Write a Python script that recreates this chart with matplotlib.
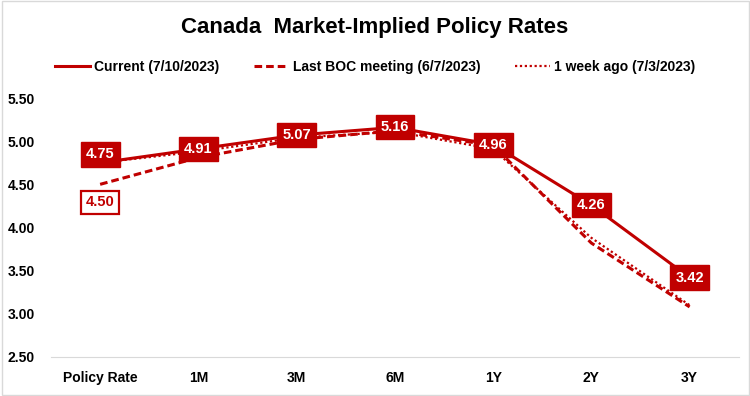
import matplotlib
matplotlib.use('Agg')
import matplotlib.pyplot as plt
from matplotlib.patches import Rectangle

plt.rcParams['font.family'] = ['Liberation Sans', 'DejaVu Sans']

# 資料
categories = ['Policy Rate', '1M', '3M', '6M', '1Y', '2Y', '3Y']
current = [4.75, 4.91, 5.07, 5.16, 4.96, 4.26, 3.42]
last_boc = [4.50, 4.81, 5.02, 5.12, 4.95, 3.82, 3.08]
week_ago = [4.75, 4.88, 5.04, 5.11, 4.91, 3.88, 3.10]
y_ticks = [2.50, 3.00, 3.50, 4.00, 4.50, 5.00, 5.50]

red = '#C00000'

fig = plt.figure(figsize=(7.5, 3.96), dpi=100)
ax = fig.add_axes([0.068, 0.0985, 0.917, 0.654])

x = list(range(len(categories)))
l1, = ax.plot(x, current, color=red, linewidth=2.2, label='Current (7/10/2023)')
l2, = ax.plot(x, last_boc, color=red, linewidth=2.2, linestyle=(0, (2.5, 1.3)), label='Last BOC meeting (6/7/2023)')
l3, = ax.plot(x, week_ago, color=red, linewidth=1.6, linestyle=(0, (1, 1.2)), label='1 week ago (7/3/2023)')

# 數據標籤
for i, v in enumerate(current):
    dy = 6 if i == 0 else 0
    ax.annotate(f"{v:.2f}", (i, v), xytext=(0, dy), textcoords='offset points',
                ha='center', va='center', color='white', fontsize=10.5, fontweight='bold',
                bbox=dict(boxstyle='square,pad=0.35', fc=red, ec=red), zorder=5)
ax.annotate(f"{last_boc[0]:.2f}", (0, last_boc[0]), xytext=(0, -13), textcoords='offset points',
            ha='center', va='center', color=red, fontsize=10.5, fontweight='bold',
            bbox=dict(boxstyle='square,pad=0.3', fc='white', ec=red, lw=1.6), zorder=5)

ax.set_xlim(-0.5, len(categories) - 0.5)
ax.set_ylim(2.5, 5.5)
ax.set_yticks(y_ticks)
ax.set_yticklabels([f"{t:.2f}" for t in y_ticks], fontsize=10, fontweight='bold')
ax.set_xticks(x)
ax.set_xticklabels(categories, fontsize=10, fontweight='bold')
ax.tick_params(length=0)
ax.xaxis.set_tick_params(pad=10)
ax.yaxis.set_tick_params(pad=31)
for lab in ax.get_yticklabels():
    lab.set_horizontalalignment('left')
for s in ['top', 'right', 'left']:
    ax.spines[s].set_visible(False)
ax.spines['bottom'].set_color('#D9D9D9')

fig.text(0.5, 0.93, 'Canada  Market-Implied Policy Rates', ha='center', va='center',
         fontsize=16, fontweight='bold')
fig.legend(handles=[l1, l2, l3], loc='center', bbox_to_anchor=(0.5, 0.83), ncol=3,
           frameon=False, prop={'size': 10, 'weight': 'bold'}, handlelength=2.5,
           columnspacing=2.5, handletextpad=0.3)

fig.patches.append(Rectangle((0.002, 0.003), 0.996, 0.994, transform=fig.transFigure,
                             fill=False, ec='#D9D9D9', lw=1))

plt.savefig('out.png', dpi=100)
